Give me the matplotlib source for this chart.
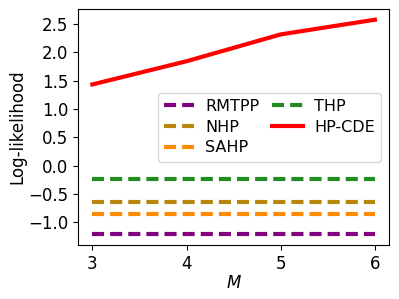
import numpy as np
import matplotlib
matplotlib.use("Agg")
import matplotlib.pyplot as plt
from matplotlib.ticker import MultipleLocator

M = [3, 4, 5, 6]
rmtpp = [-1.22, -1.22, -1.22, -1.22]
nhp = [-0.65, -0.65, -0.65, -0.65]
sahp = [-0.85, -0.85, -0.85, -0.85]
thp = [-0.235, -0.235, -0.235, -0.235]
hpcde = [1.434, 1.845, 2.32, 2.58]

dash = (2.9, 1.45)

fig, ax = plt.subplots(figsize=(3.99, 2.99), dpi=100)
ax.plot(M, rmtpp, '--', color='purple', lw=3, dashes=dash, label='RMTPP')
ax.plot(M, nhp, '--', color='darkgoldenrod', lw=3, dashes=dash, label='NHP')
ax.plot(M, sahp, '--', color='darkorange', lw=3, dashes=dash, label='SAHP')
ax.plot(M, thp, '--', color='forestgreen', lw=3, dashes=dash, label='THP')
ax.plot(M, hpcde, '-', color='red', lw=3, label='HP-CDE')

ax.set_xticks(M)
ax.yaxis.set_major_locator(MultipleLocator(0.5))
ax.tick_params(labelsize=12)
ax.set_xlabel('$M$', fontsize=12, labelpad=0.5)
ax.set_ylabel('Log-likelihood', fontsize=12, labelpad=1)
ax.legend(ncol=2, loc='center right', fontsize=11.5, handlelength=1.9,
          columnspacing=0.8, labelspacing=0.35, handletextpad=0.7)
fig.subplots_adjust(left=0.196, right=0.975, top=0.97, bottom=0.18)
fig.savefig('out.png')
